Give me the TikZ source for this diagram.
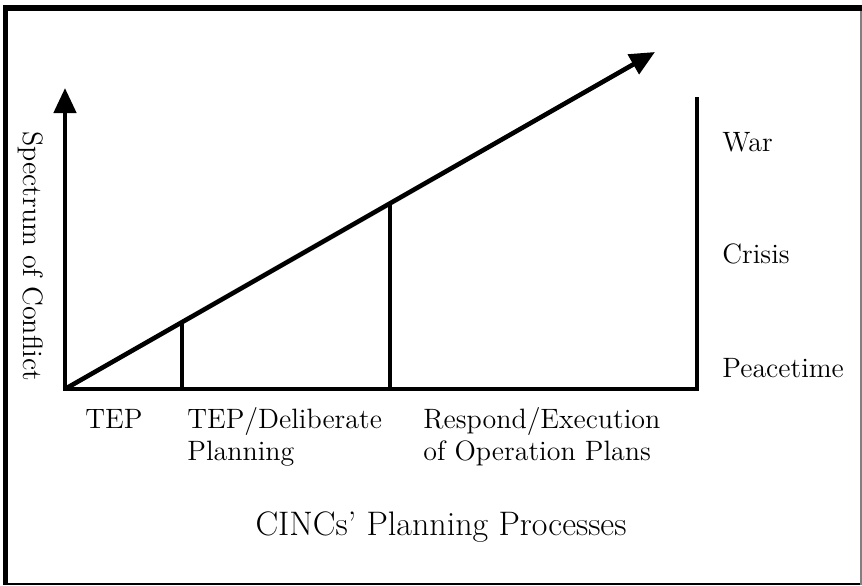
\documentclass[tikz,border=0pt]{standalone}
\usetikzlibrary{arrows.meta}
\begin{document}
\begin{tikzpicture}[x=0.5pt,y=-0.5pt]
    \tikzstyle{axis} = [line width=2.3pt, line cap=rect]
    \tikzstyle{lbl} = [inner sep=0pt, font=\fontsize{14}{16}\selectfont]
    \useasboundingbox (0,0) rectangle (862,585);
    % frame
    \draw [line width=3pt] (3,8) -- (862,8);
    \draw [line width=2.5pt] (5.5,5) -- (5.5,585);
    \draw [line width=1pt] (8,583.5) -- (862,583.5);
    \draw [line width=1pt, gray] (861,11) -- (861,585);
    % axes
    \coordinate (o) at (65,389);
    \coordinate (ytop) at (65,88);
    \coordinate (xend) at (697,389);
    \coordinate (rtop) at (697,97);
    \coordinate (dtop) at (655,52);
    \coordinate (t1) at (182,322);
    \coordinate (t1b) at (182,389);
    \coordinate (t2) at (390,203);
    \coordinate (t2b) at (390,389);
    \draw [axis, -{Triangle[length=12.5pt,width=11pt]}] (o) -- (ytop);
    \draw [axis, line cap=butt] (o) -- (xend) -- (rtop);
    \draw [axis, line cap=butt, -{Triangle[length=12.5pt,width=11pt]}] (o) -- (dtop);
    \draw [axis, line cap=butt] (t1) -- (t1b);
    \draw [axis, line cap=butt] (t2) -- (t2b);
    % labels
    \node [lbl, rotate=-90] (spec) at (31,256) {Spectrum of Conflict};
    \node [lbl, anchor=base west] (war) at (722,151) {War};
    \node [lbl, anchor=base west] (crisis) at (722,263) {Crisis};
    \node [lbl, anchor=base west] (peace) at (722,377) {Peacetime};
    \node [lbl, anchor=base west] (tep) at (85,428) {TEP};
    \node [lbl, anchor=north west, align=left] (delib) at (187,407) {TEP/Deliberate\\Planning};
    \node [lbl, anchor=north west, align=left] (resp) at (423,407) {Respond/Execution\\of Operation Plans};
    \node [inner sep=0pt, font=\fontsize{17}{19}\selectfont, anchor=base] (title) at (441,535) {CINCs' Planning Processes};
\end{tikzpicture}
\end{document}
